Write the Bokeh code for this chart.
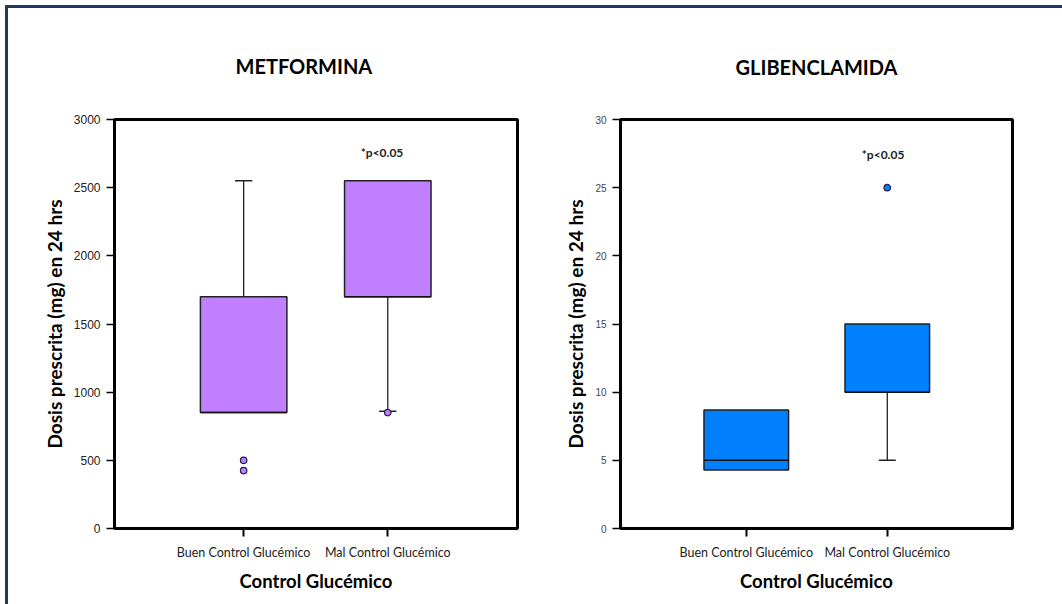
from bokeh.plotting import figure
from bokeh.layouts import row
from bokeh.models import Range1d, FixedTicker, Label, ColumnDataSource
from bokeh.embed import file_html
from bokeh.resources import INLINE

# Groups compared in both panels
categories = ["Buen Control Glucémico", "Mal Control Glucémico"]

# Metformina: box-plot summary (mg / 24 h)
met_q1 = [850, 1700]
met_median = [850, 1700]
met_q3 = [1700, 2550]
met_low = [850, 860]
met_high = [2550, 2550]
met_out_group = [0, 0, 1]
met_out_value = [500, 425, 850]
met_ticks = [0, 500, 1000, 1500, 2000, 2500, 3000]

# Glibenclamida: box-plot summary (mg / 24 h)
gli_q1 = [4.3, 10]
gli_median = [5, 10]
gli_q3 = [8.7, 15]
gli_low = [4.3, 5]
gli_high = [8.7, 15]
gli_out_group = [1]
gli_out_value = [25]
gli_ticks = [0, 5, 10, 15, 20, 25, 30]

titles = ["METFORMINA", "GLIBENCLAMIDA"]
y_label = "Dosis prescrita (mg) en 24 hrs"
x_label = "Control Glucémico"
note = "*p<0.05"

FONT = "Lato"
BOX_W = 0.6
CAP_W = 0.12


def boxplot(title, q1, med, q3, low, high, out_g, out_v, ticks, ymax, color,
            x_range, width, border_left, border_right, border_top,
            tick_font_size, tick_color, note_y, note_x, title_align, title_offset, title_standoff):
    p = figure(width=width, height=596, output_backend="svg", toolbar_location=None,
               x_range=Range1d(*x_range), y_range=Range1d(0, ymax),
               min_border_left=border_left, min_border_right=border_right,
               min_border_top=border_top, min_border_bottom=76)
    p.xgrid.visible = False
    p.ygrid.visible = False
    p.background_fill_color = "white"
    p.border_fill_color = "white"
    p.outline_line_color = "black"
    p.outline_line_width = 3

    p.title.text = title
    p.title.align = title_align
    p.title.offset = title_offset
    p.title.text_font = FONT
    p.title.text_font_style = "bold"
    p.title.text_font_size = "20px"
    p.title.text_color = "black"
    p.title.standoff = title_standoff

    pos = [1, 2]
    src = ColumnDataSource(dict(x=pos, q1=q1, med=med, q3=q3, low=low, high=high))
    # whiskers
    p.segment(x0="x", y0="q3", x1="x", y1="high", source=src, line_color="#222222", line_width=1.3)
    p.segment(x0="x", y0="q1", x1="x", y1="low", source=src, line_color="#222222", line_width=1.3)
    # boxes
    p.vbar(x="x", width=BOX_W, bottom="q1", top="q3", source=src,
           fill_color=color, line_color="#222222", line_width=1.5)
    # medians
    p.segment(x0=[x - BOX_W / 2 for x in pos], y0=med, x1=[x + BOX_W / 2 for x in pos], y1=med,
              line_color="#111111", line_width=1.5)
    # caps only where a whisker extends beyond the box
    cx, cy = [], []
    for i, x in enumerate(pos):
        if high[i] > q3[i]:
            cx.append(x); cy.append(high[i])
        if low[i] < q1[i]:
            cx.append(x); cy.append(low[i])
    if cx:
        p.segment(x0=[x - CAP_W / 2 for x in cx], y0=cy, x1=[x + CAP_W / 2 for x in cx], y1=cy,
                  line_color="#222222", line_width=1.5)
    # outliers
    p.scatter(x=[pos[g] for g in out_g], y=out_v, size=6.5, marker="circle",
              fill_color=color, line_color="#222244", line_width=1.2)

    p.add_layout(Label(x=note_x, y=note_y, text=note, text_align="center", text_baseline="middle",
                       text_font=FONT, text_font_style="bold", text_font_size="12px",
                       text_color="#222222"))

    # axes
    p.yaxis.ticker = FixedTicker(ticks=ticks)
    p.yaxis.minor_tick_line_color = None
    p.yaxis.major_tick_in = 0
    p.yaxis.major_tick_out = 8
    p.yaxis.major_tick_line_color = "black"
    p.yaxis.major_tick_line_width = 1.5
    p.yaxis.axis_line_color = None
    p.yaxis.major_label_text_font = "Liberation Sans"
    p.yaxis.major_label_text_font_size = tick_font_size
    p.yaxis.major_label_text_color = tick_color
    p.yaxis.major_label_standoff = 6
    p.yaxis.axis_label = y_label
    p.yaxis.axis_label_text_font = FONT
    p.yaxis.axis_label_text_font_style = "bold"
    p.yaxis.axis_label_text_font_size = "19px"
    p.yaxis.axis_label_text_color = "black"
    p.yaxis.axis_label_standoff = 5

    p.xaxis.ticker = FixedTicker(ticks=pos)
    p.xaxis.major_label_overrides = {pos[i]: categories[i] for i in range(len(pos))}
    p.xaxis.minor_tick_line_color = None
    p.xaxis.major_tick_in = 0
    p.xaxis.major_tick_out = 8
    p.xaxis.major_tick_line_color = "black"
    p.xaxis.major_tick_line_width = 2
    p.xaxis.axis_line_color = None
    p.xaxis.major_label_text_font = FONT
    p.xaxis.major_label_text_font_size = "12.5px"
    p.xaxis.major_label_text_color = "#222222"
    p.xaxis.major_label_standoff = 8
    p.xaxis.axis_label = x_label
    p.xaxis.axis_label_text_font = FONT
    p.xaxis.axis_label_text_font_style = "bold"
    p.xaxis.axis_label_text_font_size = "18.5px"
    p.xaxis.axis_label_text_color = "black"
    p.xaxis.axis_label_standoff = 7
    return p


p1 = boxplot(titles[0], met_q1, met_median, met_q3, met_low, met_high, met_out_group, met_out_value,
             met_ticks, 3000, "#C080FF", (0.104, 2.9), 532, 106, 23, 111, "12px", "#222222",
             2760, 1.96, "left", 121, 83)
p2 = boxplot(titles[1], gli_q1, gli_median, gli_q3, gli_low, gli_high, gli_out_group, gli_out_value,
             gli_ticks, 30, "#0080FF", (0.108, 2.888), 522, 80, 50, 109, "10px", "#444444",
             27.4, 1.97, "center", 0, 81)

layout = row(p1, p2, margin=(5, 0, 0, 5),
             styles={"border-top": "3px solid #1F3864", "border-left": "3px solid #1F3864"})

open("out.html", "w").write(file_html(layout, INLINE))
